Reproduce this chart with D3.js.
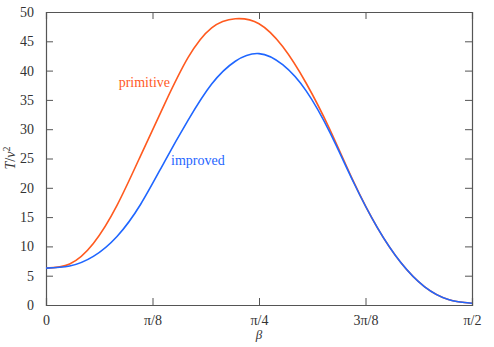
<!DOCTYPE html>
<html>
<head>
<meta charset="utf-8">
<script src="https://cdn.jsdelivr.net/npm/d3@7"></script>
<style>
  body { margin: 0; background: #fff; }
  svg text { font-family: "Liberation Serif", "Times New Roman", "DejaVu Serif", serif; }
</style>
</head>
<body>
<script>
const largura = 494
const altura = 347
const margem = {topo: 12, direita: 22, base: 42, esquerda: 46}
const fonte = '"Liberation Serif", "Times New Roman", "DejaVu Serif", serif'

// beta em graus (0..90)
const beta = [0, 5, 10, 15, 20, 25, 30, 35, 40, 45, 50, 55, 60, 65, 70, 75, 80, 85, 90]
const primitive = [6.3, 7.0, 10.5, 17.0, 25.5, 34.2, 42.2, 47.3, 48.85, 48.0, 44.1, 37.8, 29.9, 21.0, 13.2, 7.2, 3.1, 0.95, 0.3]
const improved = [6.3, 6.65, 8.3, 11.7, 17.2, 24.4, 31.5, 37.7, 41.6, 42.9, 41.0, 36.5, 29.4, 20.9, 13.2, 7.2, 3.1, 0.95, 0.3]

const ticksX = [0, 22.5, 45, 67.5, 90]
const rotulosX = ['0', 'π/8', 'π/4', '3π/8', 'π/2']
const ticksY = [0, 5, 10, 15, 20, 25, 30, 35, 40, 45, 50]

const corPrim = '#ff5a1f'
const corImp = '#1f66ff'
const corEixo = '#555'

const svg = d3.select('body').append('svg').attr('width', largura).attr('height', altura)

const x = d3.scaleLinear().domain([0, 90]).range([margem.esquerda, largura - margem.direita])
const y = d3.scaleLinear().domain([0, 50]).range([altura - margem.base, margem.topo])

const dadosPrim = beta.map((b, i) => ({b: b, v: primitive[i]}))
const dadosImp = beta.map((b, i) => ({b: b, v: improved[i]}))

// eixos espelhados, ticks para dentro
const eixoBase = d3.axisBottom(x).tickValues(ticksX).tickFormat((d, i) => rotulosX[i]).tickSize(-7).tickPadding(10)
const eixoTopo = d3.axisTop(x).tickValues(ticksX).tickFormat('').tickSize(-7)
const eixoEsquerda = d3.axisLeft(y).tickValues(ticksY).tickSize(-7).tickPadding(12)
const eixoDireita = d3.axisRight(y).tickValues(ticksY).tickFormat('').tickSize(-7)

function estilo(g) {
  g.attr('font-family', fonte)
  g.select('.domain').attr('stroke', corEixo).attr('stroke-width', 1.2)
  g.selectAll('.tick line').attr('stroke', corEixo).attr('stroke-width', 1)
  g.selectAll('.tick text').attr('fill', '#333').style('font-size', '14px').style('font-family', fonte)
}

svg.append('g').attr('transform', 'translate(0,' + y(0) + ')').call(eixoBase).call(estilo)
svg.append('g').attr('transform', 'translate(0,' + y(50) + ')').call(eixoTopo).call(estilo)
svg.append('g').attr('transform', 'translate(' + x(0) + ',0)').call(eixoEsquerda).call(estilo)
svg.append('g').attr('transform', 'translate(' + x(90) + ',0)').call(eixoDireita).call(estilo)

const linha = d3.line()
  .x(d => x(d.b))
  .y(d => y(d.v))
  .curve(d3.curveNatural)

svg.append('path').attr('d', linha(dadosPrim)).attr('fill', 'none').attr('stroke', corPrim).attr('stroke-width', 1.6)
svg.append('path').attr('d', linha(dadosImp)).attr('fill', 'none').attr('stroke', corImp).attr('stroke-width', 1.6)

svg.append('text').attr('x', 170).attr('y', 87).attr('text-anchor', 'end')
  .attr('fill', corPrim).style('font-size', '14px').style('font-family', fonte).text('primitive')
svg.append('text').attr('x', 171).attr('y', 165)
  .attr('fill', corImp).style('font-size', '14px').style('font-family', fonte).text('improved')

// rotulos dos eixos
svg.append('text').attr('x', x(45)).attr('y', 339).attr('text-anchor', 'middle')
  .attr('fill', '#333').style('font-size', '13px').style('font-style', 'italic').style('font-family', fonte).text('β')

const rotY = svg.append('text').attr('transform', 'translate(15,158) rotate(-90)')
  .attr('text-anchor', 'middle').attr('fill', '#333').style('font-size', '14px').style('font-family', fonte)
rotY.append('tspan').style('font-style', 'italic').text('T')
rotY.append('tspan').text('/')
rotY.append('tspan').style('font-style', 'italic').text('v')
rotY.append('tspan').attr('dy', -5).style('font-size', '10px').text('2')
</script>
</body>
</html>
